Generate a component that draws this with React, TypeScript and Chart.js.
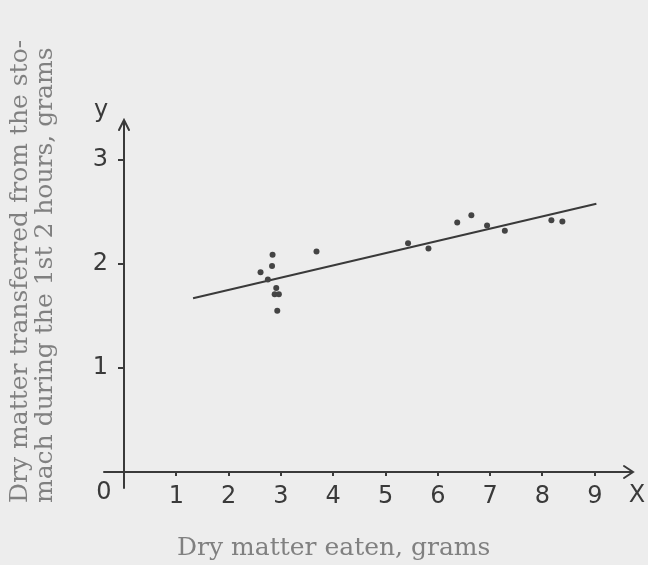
import React, { useEffect, useRef } from "react";
import { Chart, registerables } from "chart.js";

Chart.register(...registerables);

// ---- data ----
const xTickValues = [1, 2, 3, 4, 5, 6, 7, 8, 9];
const xTickLabels = ["1", "2", "3", "4", "5", "6", "7", "8", "9"];
const yTickValues = [1, 2, 3];
const yTickLabels = ["1", "2", "3"];

const pointsX = [2.84, 2.83, 2.61, 2.75, 2.91, 2.88, 2.96, 2.93, 3.68, 5.43, 5.82, 6.37, 6.64, 6.94, 7.28, 8.17, 8.38];
const pointsY = [2.09, 1.98, 1.92, 1.85, 1.77, 1.71, 1.71, 1.55, 2.12, 2.2, 2.15, 2.4, 2.47, 2.37, 2.32, 2.42, 2.41];

const fitX = [1.32, 9.03];
const fitY = [1.67, 2.58];

const xTitle = "Dry matter eaten, grams";
const yTitleLines = ["Dry matter transferred from the sto-", "mach during the 1st 2 hours, grams"];

const X_MAX = 9.73;
const Y_MAX = 3.385;

const INK = "#3a3a3a";
const HAND_FONT = "24px 'DejaVu Sans'";

const decor = {
  id: "decor",
  beforeDraw(chart: any) {
    const ctx = chart.ctx;
    ctx.save();
    ctx.fillStyle = "#ededed";
    ctx.fillRect(0, 0, chart.width, chart.height);
    ctx.restore();
  },
  afterDraw(chart: any) {
    const ctx = chart.ctx;
    const xs = chart.scales.x;
    const ys = chart.scales.y;
    const x0 = xs.getPixelForValue(0);
    const y0 = ys.getPixelForValue(0);
    const xEnd = xs.getPixelForValue(X_MAX);
    const yEnd = ys.getPixelForValue(Y_MAX);
    ctx.save();
    ctx.strokeStyle = INK;
    ctx.lineWidth = 2;
    ctx.lineCap = "round";
    // x axis with arrow
    ctx.beginPath();
    ctx.moveTo(x0 - 20, y0);
    ctx.lineTo(xEnd, y0);
    ctx.moveTo(xEnd - 9, y0 - 6);
    ctx.lineTo(xEnd, y0);
    ctx.lineTo(xEnd - 9, y0 + 6);
    ctx.stroke();
    // y axis with arrow
    ctx.beginPath();
    ctx.moveTo(x0, y0 + 16);
    ctx.lineTo(x0, yEnd);
    ctx.moveTo(x0 - 5, yEnd + 10);
    ctx.lineTo(x0, yEnd);
    ctx.lineTo(x0 + 5, yEnd + 10);
    ctx.stroke();

    // hand labels
    ctx.fillStyle = INK;
    ctx.font = HAND_FONT;
    ctx.textAlign = "center";
    ctx.textBaseline = "middle";
    ctx.fillText("0", x0 - 20, y0 + 21);
    ctx.fillText("X", xEnd + 4, y0 + 24);
    ctx.fillText("y", x0 - 23, yEnd - 9);

    // axis titles
    ctx.fillStyle = "#808080";
    ctx.font = "25px 'DejaVu Serif'";
    ctx.textAlign = "left";
    ctx.textBaseline = "middle";
    ctx.fillText(xTitle, 177, 548);
    ctx.translate(0, 503);
    ctx.rotate(-Math.PI / 2);
    ctx.fillText(yTitleLines[0], 0, 20);
    ctx.fillText(yTitleLines[1], 0, 45);
    ctx.restore();
  },
};

export default function App() {
  const ref = useRef<HTMLCanvasElement>(null);
  useEffect(() => {
    if (!ref.current) return;
    const chart = new Chart(ref.current, {
      type: "scatter",
      data: {
        datasets: [
          {
            type: "scatter",
            data: pointsX.map((x, i) => ({ x, y: pointsY[i] })),
            pointRadius: 3,
            pointBackgroundColor: "#444",
            pointBorderWidth: 0,
          },
          {
            type: "line",
            data: fitX.map((x, i) => ({ x, y: fitY[i] })),
            borderColor: INK,
            borderWidth: 2,
            pointRadius: 0,
            fill: false,
          },
        ],
      },
      options: {
        responsive: false,
        animation: false,
        layout: { padding: { left: 0, right: 15, top: 120, bottom: 0 } },
        plugins: { legend: { display: false }, tooltip: { enabled: false } },
        scales: {
          x: {
            type: "linear",
            min: 0,
            max: X_MAX,
            border: { display: false },
            grid: { drawOnChartArea: false, tickLength: 4, color: INK, lineWidth: 2 },
            afterBuildTicks: (s: any) => {
              s.ticks = xTickValues.map((v) => ({ value: v }));
            },
            ticks: {
              autoSkip: false,
              maxRotation: 0,
              padding: 6,
              color: INK,
              font: { family: "DejaVu Sans", size: 24 },
              callback: (v: any) => {
                const i = xTickValues.indexOf(Number(v));
                return i >= 0 ? xTickLabels[i] : "";
              },
            },
            afterFit: (s: any) => {
              s.height = 93;
            },
          },
          y: {
            type: "linear",
            min: 0,
            max: Y_MAX,
            border: { display: false },
            grid: { drawOnChartArea: false, tickLength: 6, color: INK, lineWidth: 2 },
            afterBuildTicks: (s: any) => {
              s.ticks = yTickValues.map((v) => ({ value: v }));
            },
            ticks: {
              autoSkip: false,
              padding: 10,
              color: INK,
              font: { family: "DejaVu Sans", size: 24 },
              callback: (v: any) => {
                const i = yTickValues.indexOf(Number(v));
                return i >= 0 ? yTickLabels[i] : "";
              },
            },
            afterFit: (s: any) => {
              s.width = 124;
            },
          },
        },
      },
      plugins: [decor],
    } as any);
    return () => chart.destroy();
  }, []);
  return (
    <div style={{ position: "absolute", left: 0, top: 0, width: 648, height: 565 }}>
      <canvas ref={ref} width={648} height={565} style={{ display: "block" }} />
    </div>
  );
}
